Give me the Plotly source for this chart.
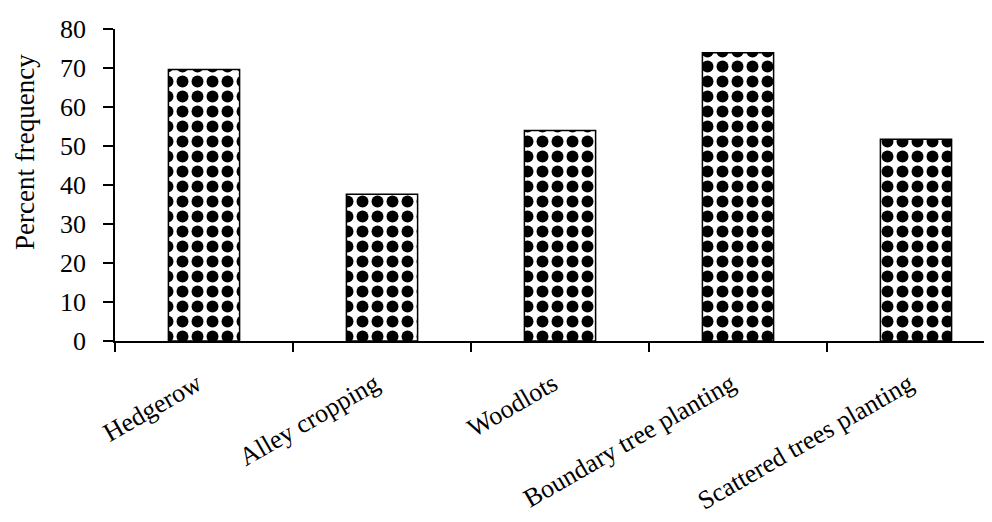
import plotly.graph_objects as go

categories = ["Hedgerow", "Alley cropping", "Woodlots", "Boundary tree planting", "Scattered trees planting"]
percent_frequency = [69.6, 37.6, 54.0, 73.9, 51.7]
y_ticks = [0, 10, 20, 30, 40, 50, 60, 70, 80]

FONT = "Liberation Serif, Times New Roman, serif"

fig = go.Figure(
    go.Bar(
        x=categories,
        y=percent_frequency,
        width=0.4,
        marker=dict(
            color="white",
            line=dict(color="black", width=1.5),
            pattern=dict(shape=".", fgcolor="black", fgopacity=1, bgcolor="white",
                         size=15, solidity=0.5, fillmode="overlay"),
        ),
    )
)

# page body has an 8px default margin, so the figure is sized/offset to compensate
fig.update_layout(
    width=984,
    height=514,
    margin=dict(l=107, r=0, t=21, b=181, autoexpand=False),
    paper_bgcolor="white",
    plot_bgcolor="white",
    showlegend=False,
    font=dict(family=FONT, size=22, color="black"),
    xaxis=dict(
        range=[-0.5, 4.427],
        showline=True,
        linecolor="black",
        linewidth=1.5,
        ticks="outside",
        tickson="boundaries",
        ticklen=9,
        tickwidth=1.5,
        tickcolor="black",
        tickangle=-30,
        ticklabelstandoff=16,
        ticklabelshift=-7,
        showgrid=False,
        automargin=False,
        tickfont=dict(family=FONT, size=26, color="black"),
    ),
    yaxis=dict(
        range=[0, 80],
        tickvals=y_ticks,
        showline=True,
        linecolor="black",
        linewidth=1.5,
        ticks="outside",
        ticklen=10,
        tickwidth=1.5,
        tickcolor="black",
        ticklabelstandoff=12,
        showgrid=False,
        zeroline=False,
        automargin=False,
        tickfont=dict(family=FONT, size=26, color="black"),
    ),
    annotations=[
        dict(
            text="Percent frequency",
            xref="paper",
            yref="paper",
            x=(25 - 115) / 877,
            y=(341 - 152) / 312,
            textangle=-90,
            showarrow=False,
            xanchor="center",
            yanchor="middle",
            font=dict(family=FONT, size=27, color="black"),
        )
    ],
)

fig.write_html("out.html")
